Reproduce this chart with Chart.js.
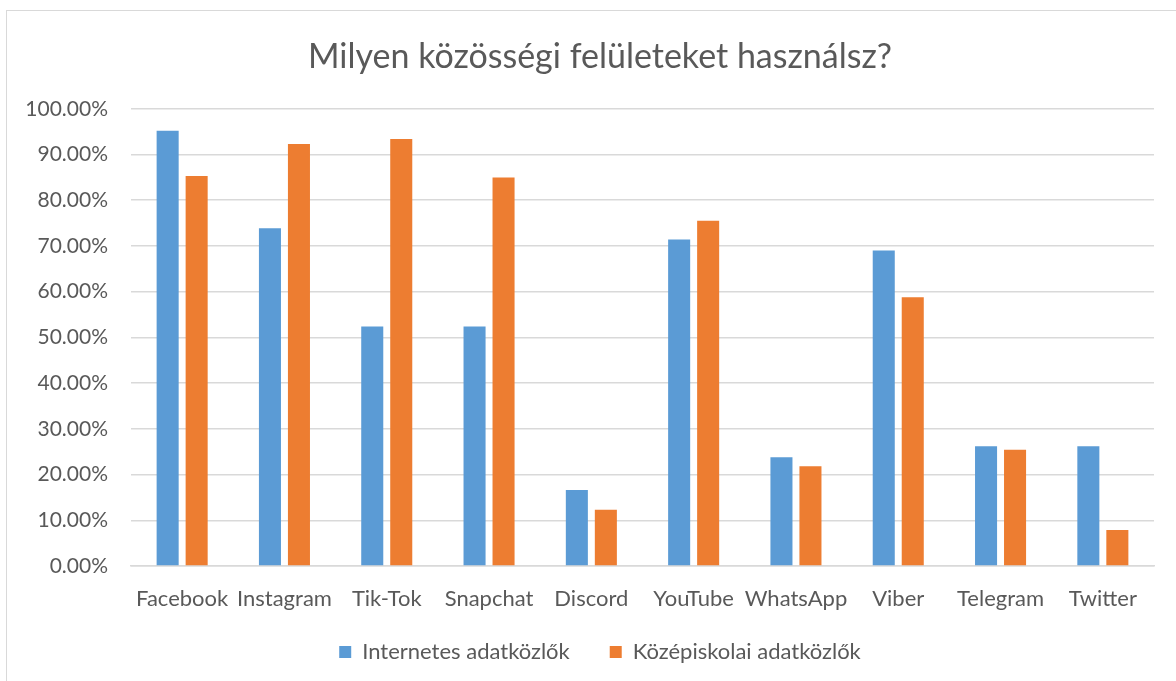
<!DOCTYPE html>
<html>
<head>
<meta charset="utf-8">
<script src="https://cdn.jsdelivr.net/npm/chart.js@4"></script>
<style>
  html, body { margin: 0; padding: 0; background: #fff; }
  #wrap { position: relative; width: 1176px; height: 681px; overflow: hidden; }
  #frame { position: absolute; left: 6px; top: 10px; width: 1200px; height: 700px;
           border-left: 1.5px solid #d9d9d9; border-top: 1.5px solid #d9d9d9; }
  canvas { position: absolute; left: 0; top: 0; }
</style>
</head>
<body>
<div id="wrap">
  <div id="frame"></div>
  <canvas id="socialChart" width="1176" height="681"></canvas>
</div>
<script>
var categories = ["Facebook", "Instagram", "Tik-Tok", "Snapchat", "Discord", "YouTube", "WhatsApp", "Viber", "Telegram", "Twitter"];
var internetes = [95.2, 73.9, 52.4, 52.4, 16.6, 71.4, 23.8, 69.0, 26.2, 26.2];
var kozepiskolai = [85.3, 92.3, 93.4, 85.0, 12.3, 75.5, 21.8, 58.8, 25.4, 7.9];
var seriesNames = ["Internetes adatközlők", "Középiskolai adatközlők"];

var textColor = "#595959";
Chart.defaults.font.family = "Lato, 'Open Sans', sans-serif";
Chart.defaults.color = textColor;

new Chart(document.getElementById("socialChart"), {
  type: "bar",
  data: {
    labels: categories,
    datasets: [
      { label: seriesNames[0], data: internetes, backgroundColor: "#5B9BD5", yAxisID: "y" },
      { label: seriesNames[1], data: kozepiskolai, backgroundColor: "#ED7D31", yAxisID: "y" }
    ]
  },
  options: {
    responsive: false,
    animation: false,
    categoryPercentage: 0.567,
    barPercentage: 0.76,
    layout: { padding: { left: 24, right: 0, top: 0, bottom: 8 } },
    plugins: {
      title: {
        display: true,
        text: "Milyen közösségi felületeket használsz?",
        color: textColor,
        font: { size: 34, weight: "normal" },
        padding: { top: 37, bottom: 31 }
      },
      legend: {
        position: "bottom",
        labels: { boxWidth: 12, boxHeight: 12, padding: 40, color: textColor, font: { size: 22 } }
      },
      tooltip: { enabled: false }
    },
    scales: {
      x: {
        grid: { display: false, drawTicks: false },
        border: { color: "#d9d9d9", width: 1.5 },
        ticks: { padding: 20, font: { size: 22 }, color: textColor,
                 maxRotation: 0, minRotation: 0, autoSkip: false },
        afterFit: function(s) {
          s.height = 35;
          // labels hang a bit below the short axis box, so don't clip them
          s._computeLabelArea = function() {};
        }
      },
      y: {
        min: 0, max: 100,
        ticks: { stepSize: 10, padding: 23, font: { size: 21 }, color: textColor,
                 callback: function(v) { return v.toFixed(2) + "%"; } },
        grid: { color: "#d9d9d9", lineWidth: 1.5, drawTicks: false },
        border: { display: false },
        afterFit: function(s) { s.width = 107; }
      },
      yr: {
        position: "right",
        display: true,
        grid: { display: false, drawTicks: false },
        border: { display: false },
        ticks: { display: false },
        afterFit: function(s) { s.width = 22; }
      }
    }
  }
});
</script>
</body>
</html>
